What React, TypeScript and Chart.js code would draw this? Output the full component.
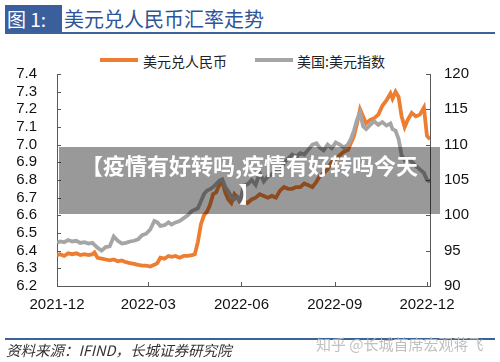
import { useEffect, useRef } from "react";
import { Chart, registerables } from "chart.js";
Chart.register(...registerables);

// days since 2021-12-01
const days = [
  0, 3, 7, 11, 15, 19, 23, 27, 31, 35,
  37, 40, 44, 48, 52, 56, 60, 64, 68, 72,
  76, 80, 84, 88, 92, 96, 99, 102, 106, 110,
  113, 117, 121, 125, 129, 133, 136, 139, 142, 145,
  148, 151, 154, 157, 160, 163, 166, 169, 172, 175,
  178, 181, 184, 188, 192, 196, 200, 204, 208, 212,
  216, 220, 224, 228, 232, 236, 240, 244, 248, 252,
  256, 259, 263, 267, 271, 275, 279, 283, 287, 290,
  293, 296, 299, 302, 305, 309, 313, 317, 321, 325,
  329, 331, 334, 337, 340, 343, 346, 350, 354, 358,
  362, 365, 368,
];

const usdCny = [
  6.375, 6.38, 6.37, 6.385, 6.38, 6.385, 6.375, 6.38, 6.375, 6.38,
  6.39, 6.36, 6.355, 6.35, 6.345, 6.35, 6.34, 6.345, 6.335, 6.33,
  6.325, 6.32, 6.315, 6.315, 6.31, 6.32, 6.33, 6.36, 6.355, 6.37,
  6.365, 6.37, 6.36, 6.37, 6.37, 6.375, 6.38, 6.45, 6.55, 6.6,
  6.62, 6.66, 6.72, 6.73, 6.77, 6.79, 6.73, 6.69, 6.67, 6.72,
  6.7, 6.67, 6.68, 6.67, 6.69, 6.7, 6.72, 6.71, 6.7, 6.71,
  6.7, 6.74, 6.76, 6.75, 6.75, 6.76, 6.76, 6.78, 6.77, 6.76,
  6.79, 6.82, 6.84, 6.86, 6.9, 6.92, 6.94, 6.96, 6.97, 7.01,
  7.05, 7.12, 7.2, 7.16, 7.12, 7.14, 7.15, 7.17, 7.22, 7.25,
  7.29, 7.26, 7.3, 7.27, 7.16, 7.1, 7.14, 7.18, 7.16, 7.17,
  7.21, 7.05, 7.03,
];

const dxy = [
  96.1, 96.3, 96.2, 96.5, 96.3, 96.4, 96.1, 96.2, 96.0, 96.1,
  95.8, 95.4, 95.0, 95.5, 95.6, 97.0, 96.4, 96.0, 96.1, 96.3,
  96.4, 96.6, 97.2, 97.4, 98.0, 99.2, 99.0, 98.5, 98.6, 99.0,
  98.7, 99.0, 99.2, 99.6, 100.0, 100.6, 100.8, 101.0, 102.0, 103.0,
  103.5, 103.7, 104.0, 104.4, 104.9, 105.1, 104.0, 103.4, 102.6, 102.3,
  102.6, 102.0, 104.2, 104.4, 105.0, 104.3, 106.0, 104.8, 105.5, 105.8,
  106.4, 106.2, 107.4, 108.0, 108.6, 108.3, 108.8, 108.6, 109.3, 110.0,
  110.2, 109.6, 109.2, 110.0, 109.5, 110.3, 110.0, 109.6, 110.0, 110.8,
  112.0, 113.5, 114.5, 112.6, 112.2, 112.8, 113.3, 112.8, 113.2, 112.7,
  113.0, 112.2, 112.0, 110.8, 108.5, 107.8, 108.0, 107.6, 107.0, 106.5,
  106.0, 105.0, 104.8,
];

const tickDays = [0, 90, 182, 274, 365];
const tickLabels = ["2021-12", "2022-03", "2022-06", "2022-09", "2022-12"];
const leftTicks = [6.2, 6.3, 6.4, 6.5, 6.6, 6.7, 6.8, 6.9, 7.0, 7.1, 7.2, 7.3, 7.4];
const rightTicks = [90, 95, 100, 105, 110, 115, 120];
const seriesNames = ["美元兑人民币", "美国:美元指数"];
const seriesColors = ["#ED7D31", "#A5A5A5"];

const AXIS = "#595959";

const innerTicks = {
  id: "innerTicks",
  afterDraw(chart: any) {
    const ctx = chart.ctx;
    const { x, y, y1 } = chart.scales;
    const area = chart.chartArea;
    ctx.save();
    ctx.strokeStyle = AXIS;
    ctx.lineWidth = 1;
    ctx.beginPath();
    y.ticks.forEach((t: any) => {
      const py = Math.round(y.getPixelForValue(t.value)) + 0.5;
      ctx.moveTo(area.left, py);
      ctx.lineTo(area.left + 4, py);
    });
    y1.ticks.forEach((t: any) => {
      const py = Math.round(y1.getPixelForValue(t.value)) + 0.5;
      ctx.moveTo(area.right, py);
      ctx.lineTo(area.right - 4, py);
    });
    x.ticks.forEach((t: any) => {
      const px = Math.round(x.getPixelForValue(t.value)) + 0.5;
      ctx.moveTo(px, area.bottom);
      ctx.lineTo(px, area.bottom - 4);
    });
    ctx.stroke();
    ctx.restore();
  },
};

export default function App() {
  const ref = useRef<HTMLCanvasElement | null>(null);

  useEffect(() => {
    const tickFont = { family: "'Liberation Sans', Arial, sans-serif", size: 15 };
    const chart = new Chart(ref.current as HTMLCanvasElement, {
      type: "line",
      data: {
        datasets: [
          {
            label: seriesNames[0],
            data: days.map((d, i) => ({ x: d, y: usdCny[i] })),
            borderColor: seriesColors[0],
            backgroundColor: seriesColors[0],
            borderWidth: 3.8,
            pointRadius: 0,
            yAxisID: "y",
            order: 1,
          },
          {
            label: seriesNames[1],
            data: days.map((d, i) => ({ x: d, y: dxy[i] })),
            borderColor: seriesColors[1],
            backgroundColor: seriesColors[1],
            borderWidth: 3.8,
            pointRadius: 0,
            yAxisID: "y1",
            order: 0,
          },
        ],
      },
      options: {
        animation: false,
        responsive: false,
        maintainAspectRatio: false,
        layout: { padding: { top: 74, left: 0, right: 0, bottom: 0 } },
        plugins: { legend: { display: false }, tooltip: { enabled: false } },
        scales: {
          x: {
            type: "linear",
            min: 0,
            max: 368,
            afterBuildTicks: (s: any) => {
              s.ticks = tickDays.map((v) => ({ value: v }));
            },
            afterFit: (s: any) => {
              s.height = 76;
            },
            ticks: {
              autoSkip: false,
              maxRotation: 0,
              padding: 10,
              color: "#111",
              font: tickFont,
              callback: (v: any) => {
                const i = tickDays.indexOf(Number(v));
                return i >= 0 ? tickLabels[i] : "";
              },
            },
            grid: { display: false, drawTicks: false },
            border: { display: true, color: AXIS, width: 1 },
          },
          y: {
            position: "left",
            min: 6.2,
            max: 7.4,
            afterBuildTicks: (s: any) => {
              s.ticks = leftTicks.map((v) => ({ value: v }));
            },
            afterFit: (s: any) => {
              s.width = 57;
            },
            ticks: {
              autoSkip: false,
              padding: 20,
              color: "#111",
              font: tickFont,
              callback: (v: any) => Number(v).toFixed(1),
            },
            grid: { display: false, drawTicks: false },
            border: { display: true, color: AXIS, width: 1 },
          },
          y1: {
            position: "right",
            min: 90,
            max: 120,
            afterBuildTicks: (s: any) => {
              s.ticks = rightTicks.map((v) => ({ value: v }));
            },
            afterFit: (s: any) => {
              s.width = 70;
            },
            ticks: {
              autoSkip: false,
              padding: 14,
              color: "#111",
              font: tickFont,
              callback: (v: any) => String(v),
            },
            grid: { display: false, drawTicks: false },
            border: { display: true, color: AXIS, width: 1 },
          },
        },
      },
      plugins: [innerTicks],
    } as any);
    return () => chart.destroy();
  }, []);

  const cjk = "'Noto Sans CJK SC', 'Noto Sans', sans-serif";

  return (
    <div
      style={{
        position: "fixed",
        left: 0,
        top: 0,
        width: 500,
        height: 362,
        background: "#fff",
        overflow: "hidden",
        fontFamily: cjk,
      }}
    >
      {/* header */}
      <div style={{ position: "absolute", left: 5, top: 5, width: 57, height: 27, background: "#3a5f9c" }} />
      <div
        style={{
          position: "absolute",
          left: 7,
          top: 8,
          height: 22,
          lineHeight: "22px",
          fontSize: 19,
          color: "#fff",
          whiteSpace: "nowrap",
        }}
      >
        图 1:
      </div>
      <div
        style={{
          position: "absolute",
          left: 64,
          top: 8,
          height: 22,
          lineHeight: "22px",
          fontSize: 20,
          color: "#2e5597",
          whiteSpace: "nowrap",
        }}
      >
        美元兑人民币汇率走势
      </div>
      <div style={{ position: "absolute", left: 5, top: 32, width: 490, height: 2, background: "#3d6299" }} />

      {/* legend */}
      <div style={{ position: "absolute", left: 100, top: 58, width: 38, height: 4, background: seriesColors[0] }} />
      <div
        style={{
          position: "absolute",
          left: 143,
          top: 53,
          height: 16,
          lineHeight: "16px",
          fontSize: 14,
          color: "#222",
          whiteSpace: "nowrap",
        }}
      >
        {seriesNames[0]}
      </div>
      <div style={{ position: "absolute", left: 255, top: 58, width: 38, height: 4, background: seriesColors[1] }} />
      <div
        style={{
          position: "absolute",
          left: 297,
          top: 53,
          height: 16,
          lineHeight: "16px",
          fontSize: 14,
          color: "#222",
          whiteSpace: "nowrap",
        }}
      >
        {seriesNames[1]}
      </div>

      <canvas ref={ref} width={500} height={362} style={{ position: "absolute", left: 0, top: 0, width: 500, height: 362 }} />

      {/* overlay */}
      <div
        style={{
          position: "absolute",
          left: 59,
          top: 147,
          width: 381,
          height: 67,
          boxSizing: "border-box",
          paddingTop: 3,
          background: "rgba(0,0,0,0.4)",
          color: "#fff",
          fontWeight: 700,
          fontSize: 22,
          lineHeight: "28px",
          textAlign: "center",
          whiteSpace: "nowrap",
        }}
      >
        【疫情有好转吗,疫情有好转吗今天
        <br />】
      </div>

      {/* footer */}
      <div style={{ position: "absolute", left: 5, top: 338, width: 490, height: 2, background: "#3a6496" }} />
      <div
        style={{
          position: "absolute",
          left: 6,
          top: 342,
          height: 16,
          lineHeight: "16px",
          fontSize: 14.5,
          fontStyle: "italic",
          color: "#333",
          whiteSpace: "nowrap",
        }}
      >
        资料来源：IFIND，长城证券研究院
      </div>
      <div
        style={{
          position: "absolute",
          left: 316,
          top: 335,
          height: 18,
          lineHeight: "18px",
          fontSize: 15,
          color: "rgba(185,185,185,0.9)",
          whiteSpace: "nowrap",
        }}
      >
        知乎 @长城首席宏观蒋飞
      </div>
    </div>
  );
}
